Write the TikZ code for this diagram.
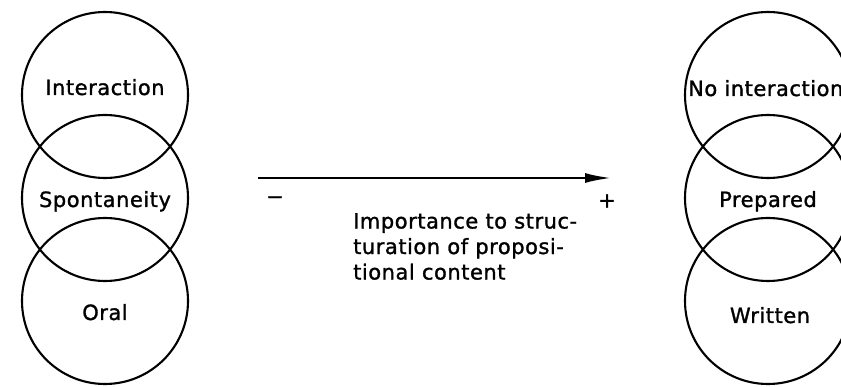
\documentclass[tikz,border=0pt]{standalone}
\usepackage{fontspec}
\setmainfont{DejaVu Sans}[FakeBold=1.3,LetterSpace=2.5]
\usetikzlibrary{arrows.meta}

\begin{document}
\begin{tikzpicture}[x=1pt,y=-1pt]
\tikzstyle{zone}=[circle,draw,line width=2.1pt,minimum size=166pt,inner sep=0pt]
\tikzstyle{every node}=[font=\fontsize{21}{25.5}\selectfont,inner sep=0pt]
\useasboundingbox (0,0) rectangle (841,387);
% left column
\node[zone] (inter) at (105,95) {};
\node[zone] (spont) at (105,198) {};
\node[zone] (oral) at (105,301) {};
\node[anchor=base] (interl) at (105,95) {Interaction};
\node[anchor=base] (spontl) at (105,207) {Spontaneity};
\node[anchor=base] (orall) at (105,320) {Oral};
% right column
\node[zone] (nointer) at (768,95) {};
\node[zone] (prep) at (768,198) {};
\node[zone] (writ) at (768,301) {};
\node[anchor=base west] (nointerl) at (688,96) {No interaction};
\node[anchor=base] (prepl) at (768,207) {Prepared};
\node[anchor=base] (writl) at (770,323) {Written};
% scale
\coordinate (lo) at (258,178);
\coordinate (hi) at (612,178);
\draw[line width=2.8pt,-{Latex[length=27pt,width=10pt]}] (lo) -- (hi);
\node (minus) at (275,200) {\symbol{"2212}};
\node (plus) at (607,201) {+};
\node[anchor=north west,align=left] (caption) at (353,213)
  {Importance to struc-\\turation of proposi-\\tional content};
\end{tikzpicture}
\end{document}
